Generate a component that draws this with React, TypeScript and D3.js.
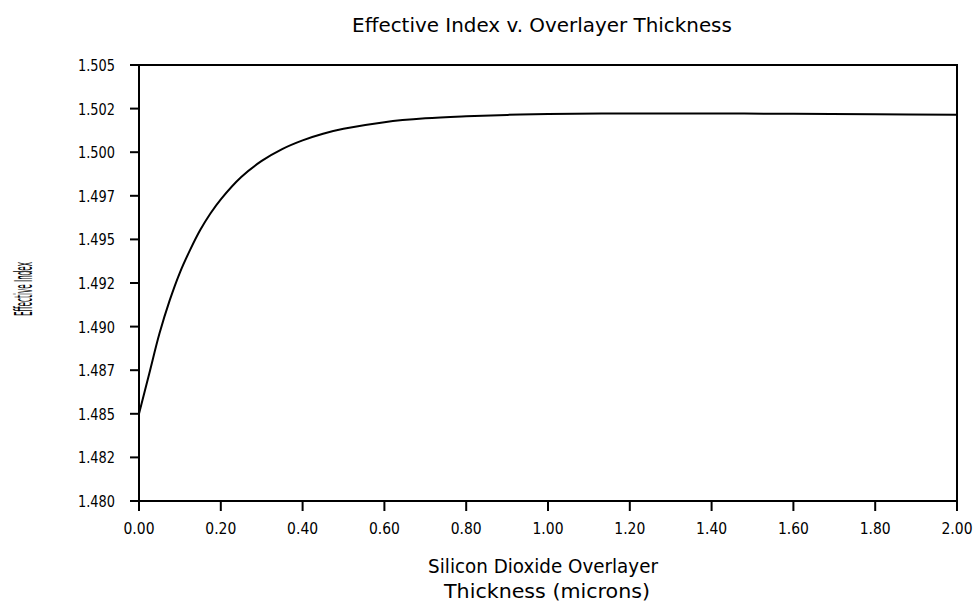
import React, { useEffect, useRef } from "react";
import * as d3 from "d3";

const thickness = [0, 0.025, 0.05, 0.075, 0.1, 0.125, 0.15, 0.175, 0.2, 0.25, 0.3, 0.35, 0.4, 0.45, 0.5, 0.6, 0.7, 0.8, 0.9, 1.0, 1.2, 1.4, 1.6, 1.8, 2.0];
const effIndex = [1.485, 1.4873, 1.4896, 1.4915, 1.4931, 1.4944, 1.49555, 1.4965, 1.4973, 1.49858, 1.4995, 1.50018, 1.50068, 1.50106, 1.50134, 1.50172, 1.50194, 1.50206, 1.50214, 1.50219, 1.50222, 1.50222, 1.5022, 1.50218, 1.50215];
const yTicks = [1.48, 1.4825, 1.485, 1.4875, 1.49, 1.4925, 1.495, 1.4975, 1.5, 1.5025, 1.505];
const yTickLabels = ["1.480", "1.482", "1.485", "1.487", "1.490", "1.492", "1.495", "1.497", "1.500", "1.502", "1.505"];
const xTicks = [0, 0.2, 0.4, 0.6, 0.8, 1.0, 1.2, 1.4, 1.6, 1.8, 2.0];
const xTickLabels = ["0.00", "0.20", "0.40", "0.60", "0.80", "1.00", "1.20", "1.40", "1.60", "1.80", "2.00"];
const title = "Effective Index v. Overlayer Thickness";
const xLabel1 = "Silicon Dioxide Overlayer";
const xLabel2 = "Thickness (microns)";
const yLabel = "Effective Index";

const W = 976, H = 609;
const L = 139, R = 957, T = 65, B = 501;
const FONT = "'DejaVu Sans', sans-serif";

// places text with anchor at (x,y), horizontally scaled to target width
function fitText(parent: any, str: string, x: number, y: number, size: number, width: number, anchor: string, rotate = 0) {
  const g = parent.append("g");
  const t = g.append("text").attr("font-family", FONT).attr("font-size", size).attr("text-anchor", anchor).text(str);
  const natural = (t.node() as SVGTextElement).getComputedTextLength() || width;
  const sx = width / natural;
  g.attr("transform", `translate(${x},${y}) rotate(${rotate}) scale(${sx},1)`);
  return g;
}

export default function App() {
  const ref = useRef<SVGSVGElement>(null);
  useEffect(() => {
    const svg = d3.select(ref.current);
    svg.selectAll("*").remove();
    const x = d3.scaleLinear().domain([0, 2]).range([L, R]);
    const y = d3.scaleLinear().domain([1.48, 1.505]).range([B, T]);

    svg.append("rect").attr("x", L).attr("y", T).attr("width", R - L).attr("height", B - T)
      .attr("fill", "none").attr("stroke", "#000").attr("stroke-width", 2);

    const gy = svg.append("g");
    yTicks.forEach((v, i) => {
      gy.append("line").attr("x1", L - 9).attr("x2", L).attr("y1", y(v)).attr("y2", y(v))
        .attr("stroke", "#000").attr("stroke-width", 2);
      fitText(gy, yTickLabels[i], 115, y(v) + 6, 16, 37, "end");
    });

    const gx = svg.append("g");
    xTicks.forEach((v, i) => {
      gx.append("line").attr("x1", x(v)).attr("x2", x(v)).attr("y1", B).attr("y2", B + 10)
        .attr("stroke", "#000").attr("stroke-width", 2);
      fitText(gx, xTickLabels[i], x(v), 534, 16, 31, "middle");
    });

    const line = d3.line<number>().x((_, i) => x(thickness[i])).y((d) => y(d)).curve(d3.curveCatmullRom.alpha(0.5));
    svg.append("path").attr("d", line(effIndex)).attr("fill", "none").attr("stroke", "#000").attr("stroke-width", 2);

    fitText(svg, title, 542, 32, 19, 380, "middle");
    fitText(svg, xLabel1, 543, 573, 20, 230, "middle");
    fitText(svg, xLabel2, 547, 598, 20, 206, "middle");
    fitText(svg, yLabel, 32, 289, 24, 54, "middle", -90);
  }, []);
  return (
    <svg ref={ref} width={W} height={H} style={{ position: "absolute", left: 0, top: 0, background: "#fff" }} />
  );
}
